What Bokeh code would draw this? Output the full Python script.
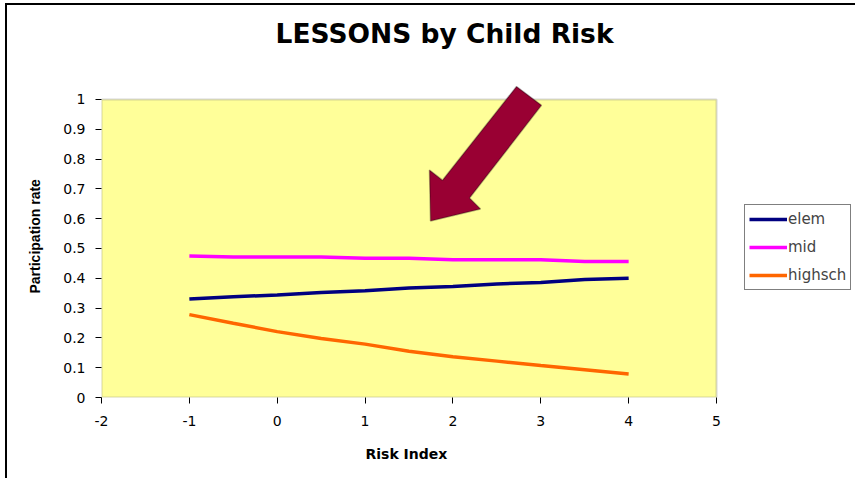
from bokeh.plotting import figure
from bokeh.models import (Legend, LegendItem, Title, PolyAnnotation, BoxAnnotation, FixedTicker)
from bokeh.embed import file_html
from bokeh.resources import INLINE

# ---- data ----
risk_index = [-1, -0.5, 0, 0.5, 1, 1.5, 2, 2.5, 3, 3.5, 4]
elem = [0.330, 0.338, 0.344, 0.352, 0.358, 0.367, 0.372, 0.381, 0.386, 0.396, 0.400]
mid = [0.475, 0.471, 0.471, 0.471, 0.467, 0.467, 0.462, 0.462, 0.462, 0.456, 0.456]
highsch = [0.278, 0.249, 0.221, 0.198, 0.179, 0.155, 0.137, 0.122, 0.107, 0.093, 0.079]
series_names = ["elem", "mid", "highsch"]
x_ticks = [-2, -1, 0, 1, 2, 3, 4, 5]
x_tick_labels = ["-2", "-1", "0", "1", "2", "3", "4", "5"]
y_ticks = [0, 0.1, 0.2, 0.3, 0.4, 0.5, 0.6, 0.7, 0.8, 0.9, 1]
y_tick_labels = ["0", "0.1", "0.2", "0.3", "0.4", "0.5", "0.6", "0.7", "0.8", "0.9", "1"]

FONT = "DejaVu Sans"
colors = ["#000080", "#FF00FF", "#FF6600"]

# the axis area spans x -2..5, y 0..1; the frame extends further
# (to the right for the legend, above for the arrow)
X0, X1, Y0, Y1 = -2, 5, 0, 1
W, H = 850, 475
ML, MT, MB = 94, 53, 83
AREA_W, AREA_H = 615, 299  # pixels of the x -2..5 and y 0..1 spans
x_end = X1 + (W - ML - AREA_W) * (X1 - X0) / AREA_W
y_end = (H - MT - MB) * (Y1 - Y0) / AREA_H

p = figure(width=W, height=H, output_backend="svg", toolbar_location=None,
           x_range=(X0, x_end), y_range=(Y0, y_end),
           min_border_left=ML, min_border_right=0, min_border_top=MT, min_border_bottom=MB)
p.styles = {"border-left": "2px solid black", "border-top": "2px solid black",
            "margin-left": "5px", "margin-top": "3px"}
p.background_fill_color = "white"
p.border_fill_color = "white"
p.outline_line_color = None
p.xgrid.visible = False
p.ygrid.visible = False

plot_area = BoxAnnotation(left=X0, right=X1, bottom=Y0, top=Y1, fill_color="#FFFF99",
                          fill_alpha=1.0, line_color="#7a7a7a", line_width=2, level="underlay")
p.add_layout(plot_area)

for ax in (p.xaxis[0], p.yaxis[0]):
    ax.axis_line_color = None
    ax.major_tick_line_color = "black"
    ax.major_tick_out = 6
    ax.major_tick_in = 0
    ax.minor_tick_line_color = None
    ax.major_label_text_font = FONT
    ax.major_label_text_font_size = "14px"
    ax.major_label_text_color = "black"

p.xaxis.ticker = FixedTicker(ticks=x_ticks)
p.xaxis.major_label_overrides = {t: l for t, l in zip(x_ticks, x_tick_labels)}
p.xaxis.major_label_standoff = 12
p.yaxis.ticker = FixedTicker(ticks=y_ticks)
p.yaxis.major_label_overrides = {t: l for t, l in zip(y_ticks, y_tick_labels)}
p.yaxis.major_label_standoff = 10

renderers = []
for vals, c in zip([elem, mid, highsch], colors):
    r = p.line(risk_index, vals, line_color=c, line_width=3.5)
    renderers.append(r)

# block arrow annotation (data units)
arrow = PolyAnnotation(xs=[1.745, 1.733, 1.881, 2.724, 3.008, 2.189, 2.314],
                       ys=[0.592, 0.763, 0.729, 1.043, 0.980, 0.669, 0.632],
                       fill_color="#990033", fill_alpha=1.0,
                       line_color="black", line_width=1.5)
p.add_layout(arrow)

p.add_layout(Title(text="LESSONS by Child Risk", align="left", offset=174,
                   text_font=FONT, text_font_size="26.5px", text_font_style="bold",
                   text_color="black", standoff=21), "above")
p.add_layout(Title(text="Risk Index", align="left", offset=264,
                   text_font=FONT, text_font_size="14px", text_font_style="bold",
                   text_color="black", standoff=31), "below")
p.add_layout(Title(text="Participation rate", align="left", offset=104,
                   text_font="Liberation Sans", text_font_size="14px", text_font_style="bold",
                   text_color="black", standoff=35), "left")

legend = Legend(items=[LegendItem(label=n, renderers=[r]) for n, r in zip(series_names, renderers)],
                location=(643, 107), orientation="vertical",
                border_line_color="black", border_line_width=1,
                background_fill_color="white", background_fill_alpha=1,
                label_text_font=FONT, label_text_font_size="15px",
                glyph_width=38, glyph_height=20, label_height=20,
                label_standoff=1, spacing=8, padding=4, margin=0)
p.add_layout(legend)

open("out.html", "w").write(file_html(p, INLINE))
